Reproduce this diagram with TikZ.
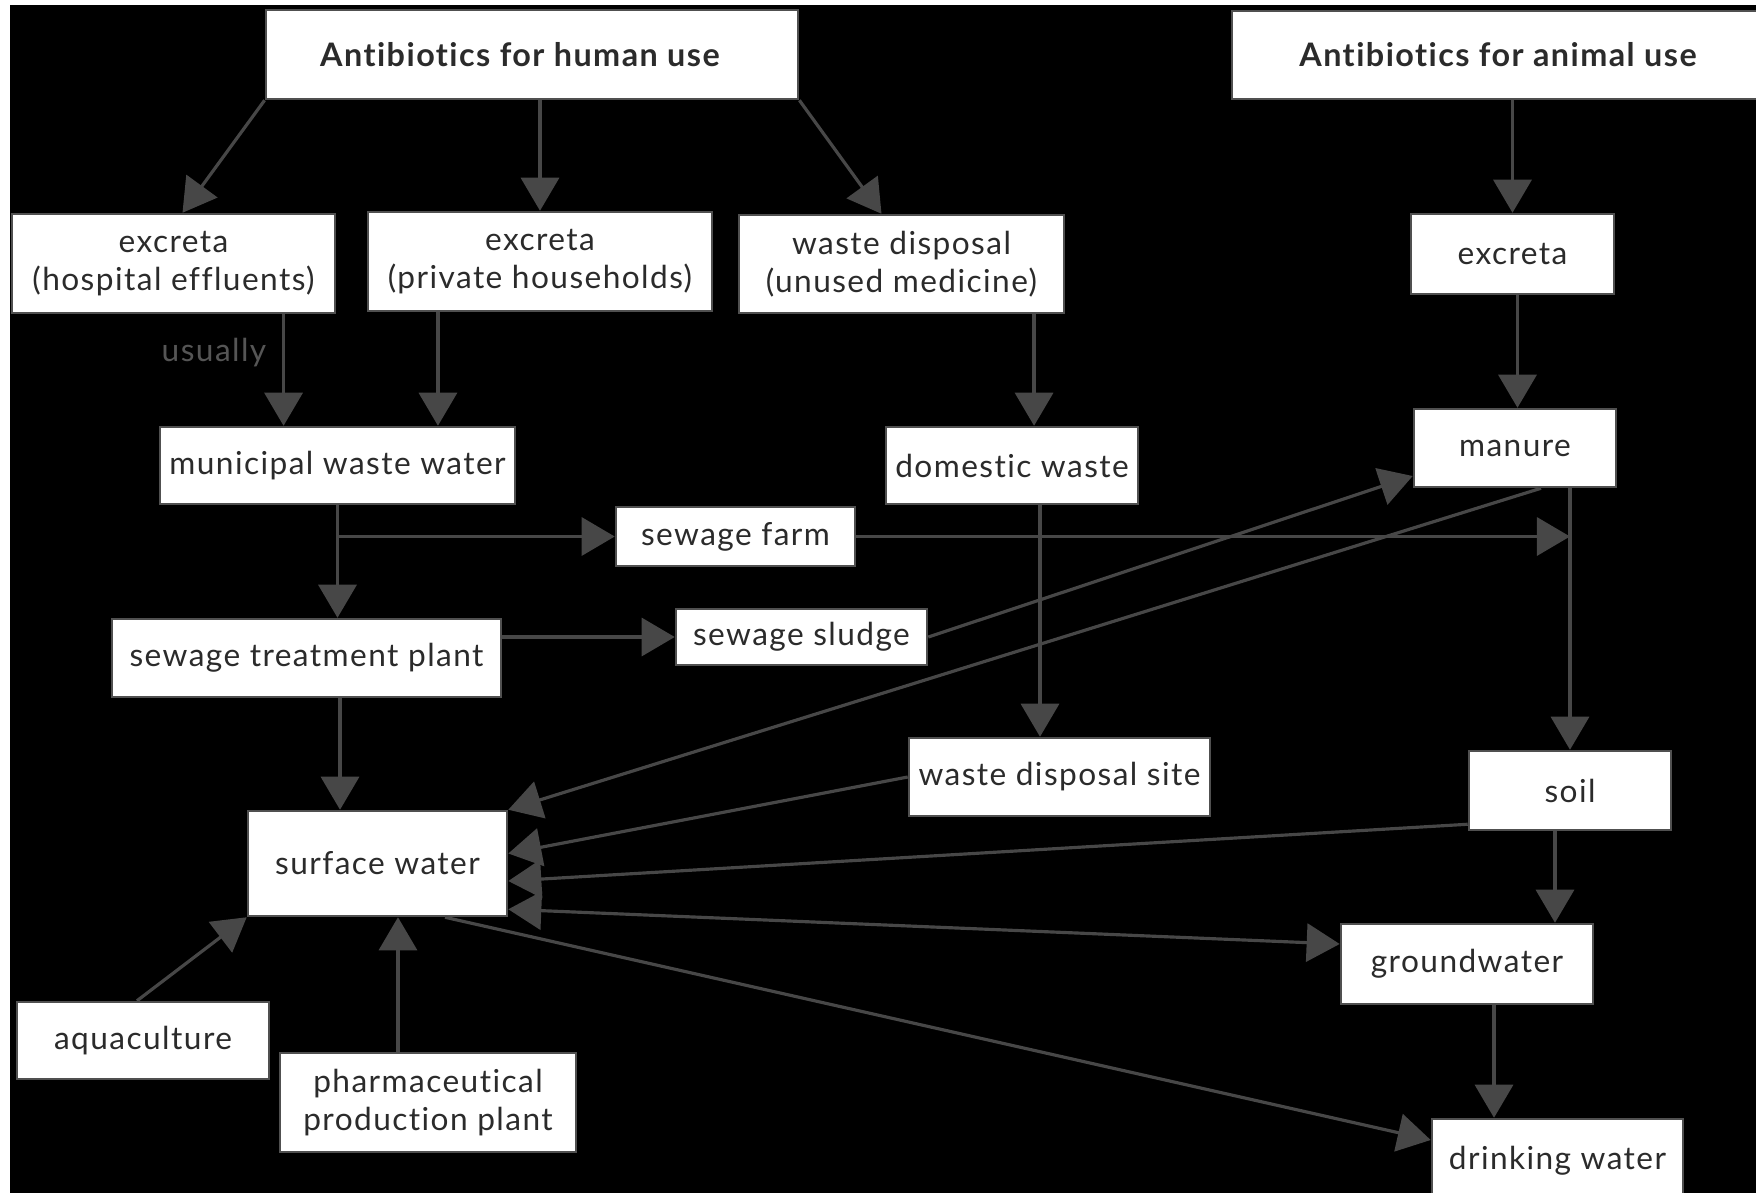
\documentclass[tikz,border=0pt]{standalone}
\usepackage{fontspec}
\setmainfont{Lato}[LetterSpace=4.5,Ligatures=NoCommon]
\usetikzlibrary{arrows.meta,calc}
\definecolor{ln}{HTML}{474747}
\definecolor{bd}{HTML}{505050}
\definecolor{tx}{HTML}{2b2b2b}
\begin{document}
\begin{tikzpicture}[x=0.01cm,y=-0.01cm,
  box/.style={draw=bd,line width=0.7pt,fill=white,text=tx,align=center,inner sep=0pt,
    font=\fontsize{9}{10.8}\selectfont},
  title/.style={box,font=\fontsize{9.2}{11}\selectfont\bfseries},
  arr/.style={draw=ln,line width=0.9pt,-{Triangle[length=0.33cm,width=0.38cm]}},
  darr/.style={draw=ln,line width=0.9pt,{Triangle[length=0.33cm,width=0.38cm]}-{Triangle[length=0.33cm,width=0.38cm]}},
  ln/.style={draw=ln,line width=0.9pt}]
\useasboundingbox (0,0) rectangle (1756,1193);
\fill[white] (0,0) rectangle (1756,1193);
\fill[black] (10,5) rectangle (1756,1193);
% nodes
\node[title,minimum width=5.32cm,minimum height=0.89cm] (hum) at (532,54.5) {Antibiotics for human use\hspace*{0.24cm}};
\node[title,minimum width=5.32cm,minimum height=0.88cm] (ani) at (1498,55) {Antibiotics for animal use};
\node[box,minimum width=3.23cm,minimum height=0.99cm] (exh) at (173.5,263.5) {excreta\\(hospital effluents)};
\node[box,minimum width=3.44cm,minimum height=0.99cm] (exp) at (540,261.5) {excreta\\(private households)};
\node[box,minimum width=3.25cm,minimum height=0.98cm] (wdu) at (901.5,264) {waste disposal\\(unused medicine)};
\node[box,minimum width=2.03cm,minimum height=0.80cm] (exa) at (1512.5,254) {excreta};
\node[box,minimum width=3.55cm,minimum height=0.77cm] (mww) at (337.5,465.5) {municipal waste water};
\node[box,minimum width=2.52cm,minimum height=0.77cm] (dom) at (1012,465.5) {domestic waste};
\node[box,minimum width=2.02cm,minimum height=0.78cm] (man) at (1515,448) {manure};
\node[box,minimum width=2.39cm,minimum height=0.59cm] (farm) at (735.5,536.5) {sewage farm};
\node[box,minimum width=3.89cm,minimum height=0.78cm] (stp) at (306.5,658) {sewage treatment plant};
\node[box,minimum width=2.51cm,minimum height=0.56cm] (slu) at (801.5,637) {sewage sludge};
\node[box,minimum width=3.01cm,minimum height=0.78cm] (wds) at (1059.5,777) {waste disposal site};
\node[box,minimum width=2.02cm,minimum height=0.79cm] (soil) at (1570,790.5) {soil};
\node[box,minimum width=2.59cm,minimum height=1.05cm] (sw) at (377.5,863.5) {surface water};
\node[box,minimum width=2.52cm,minimum height=0.80cm] (gw) at (1467,964) {groundwater};
\node[box,minimum width=2.52cm,minimum height=0.77cm] (aq) at (143,1040.5) {aquaculture};
\node[box,minimum width=2.96cm,minimum height=0.99cm] (ph) at (428,1102.5) {pharmaceutical\\production plant};
\node[box,minimum width=2.51cm,minimum height=0.84cm] (dw) at (1557.5,1161) {drinking water};
\node[text=tx!80,font=\fontsize{9}{10}\selectfont,inner sep=0pt] (usu) at (214,353) {usually};
% connectors from human antibiotics
\draw[arr] (hum.south west) -- ([xshift=0.09cm]exh.north);
\draw[arr] (hum.south -| exp.north) -- (exp.north);
\draw[arr] (hum.south east) -- ([xshift=-0.2cm]wdu.north);
\draw[arr] ([xshift=1.1cm]exh.south) -- ([xshift=1.1cm]exh.south |- mww.north);
\draw[arr] ([xshift=-1.02cm]exp.south) -- ([xshift=-1.02cm]exp.south |- mww.north);
\draw[arr] ([xshift=1.325cm]wdu.south) -- ([xshift=1.325cm]wdu.south |- dom.north);
% animal branch
\draw[arr] (exa.north |- ani.south) -- (exa.north);
\draw[arr] ([xshift=0.05cm]exa.south) -- ([xshift=0.05cm]exa.south |- man.north);
\draw[arr] (soil.north |- man.south) -- (soil.north);
% municipal waste water
\coordinate (br) at (mww.south |- farm.west);
\draw[arr] (mww.south) -- (mww.south |- stp.north);
\draw[arr] (br) -- (farm.west);
\draw[arr] (farm.east) -- (farm.east -| soil.north);
\draw[arr] (stp.east |- slu.west) -- (slu.west);
\draw[arr] ([xshift=0.335cm]stp.south) -- ([xshift=0.335cm]stp.south |- sw.north);
\draw[arr] (slu.east) -- ([yshift=-0.28cm]man.west);
\draw[arr] ([xshift=0.26cm]man.south) -- (sw.north east);
\draw[arr] ([xshift=0.28cm]dom.south) -- ([xshift=0.28cm]dom.south |- wds.north);
\draw[arr] (wds.west) -- ([yshift=0.1cm]sw.east);
\draw[arr] ([yshift=0.07cm]soil.south west) -- ([yshift=-0.175cm]sw.east);
\draw[darr] ([yshift=0.08cm]sw.south east) -- ([yshift=0.2cm]gw.west);
\draw[arr] ([xshift=0.675cm]sw.south) -- ([yshift=0.21cm]dw.west);
\draw[arr] ([xshift=-0.06cm]aq.north) -- (sw.south west);
\draw[arr] ([xshift=-0.3cm]ph.north) -- ([xshift=-0.3cm]ph.north |- sw.south);
\draw[arr] ([xshift=-0.15cm]soil.south) -- ([xshift=-0.15cm]soil.south |- gw.north);
\draw[arr] ([xshift=0.27cm]gw.south) -- ([xshift=0.27cm]gw.south |- dw.north);
\end{tikzpicture}
\end{document}
